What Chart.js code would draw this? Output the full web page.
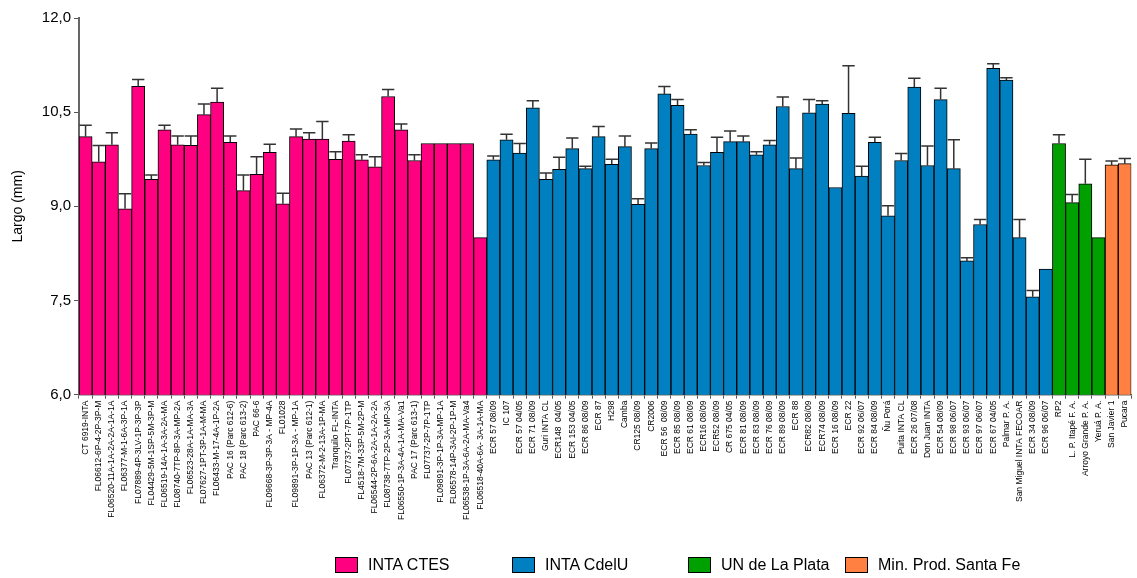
<!DOCTYPE html>
<html>
<head>
<meta charset="utf-8">
<script src="https://cdn.jsdelivr.net/npm/chart.js@4.4.1/dist/chart.umd.min.js"></script>
<style>
  html, body { margin: 0; padding: 0; background: #fff; }
  #wrap { position: relative; width: 1137px; height: 578px; }
  #legend { position: absolute; left: 0; top: 556px; width: 1137px; height: 20px;
            font: 16px "Liberation Sans", Arial, sans-serif; color: #000; }
  .item { position: absolute; top: 0; display: flex; align-items: center; height: 18px; white-space: nowrap; }
  .box { width: 23px; height: 16px; border: 1px solid #000; box-sizing: border-box; margin-right: 10px; }
</style>
</head>
<body>
<div id="wrap">
  <canvas id="c" width="1137" height="578"></canvas>
  <div id="legend"></div>
</div>
<script>
// Origin groups and their colours
const groups = ['INTA CTES', 'INTA CdelU', 'UN de La Plata', 'Min. Prod. Santa Fe'];
const groupColors = ['#FF0080', '#0080C0', '#00A000', '#FF8040'];

// INTA CTES lines
const ctesLabels = [
  'CT 6919-INTA', 'FL06612-6P-4-2P-3P-M', 'FL06520-11A-1A-2A-2A-1A-1A', 'FL06377-M-1-6A-3P-1A',
  'FL07889-4P-3LV-1P-3P-3P', 'FL04429-5M-1SP-5M-3P-M', 'FL06519-14A-1A-3A-2A-MA', 'FL08740-7TP-8P-3A-MP-2A',
  'FL06523-28A-1A-MA-3A', 'FL07627-1PT-3P-1A-M-MA', 'FL06433-M-17-4A-1P-2A', 'PAC 16 (Parc 612-6)',
  'PAC 18 (Parc 613-2)', 'PAC 66-6', 'FL09668-3P-3P-3A - MP-4A', 'FL01028',
  'FL09891-3P-1P-3A - MP-1A', 'PAC 13 (Parc 612-1)', 'FL06372-M-2-13A-1P-MA', 'Tranquilo FL-INTA',
  'FL07737-2PT-7P-1TP', 'FL4518-7M-33P-5M-2P-M', 'FL06544-2P-6A-2A-1A-2A-2A', 'FL08738-7TP-2P-3A-MP-3A',
  'FL06550-1P-3A-4A-1A-MA-Va1', 'PAC 17 (Parc 613-1)', 'FL07737-2P-7P-1TP', 'FL09891-3P-1P-3A-MP-1A',
  'FL06578-14P-3AI-2P-1P-M', 'FL06538-1P-3A-6A-2A-MA-Va4', 'FL06518-40A-6A- 3A-1A-MA'
];
const ctesMeans = [
  10.11, 9.71, 9.98, 8.96, 10.91, 9.43, 10.22, 9.98, 9.97, 10.46, 10.66, 10.02, 9.25, 9.51, 9.86, 9.04,
  10.11, 10.07, 10.07, 9.75, 10.04, 9.74, 9.63, 10.75, 10.22, 9.73, 10.0, 10.0, 10.0, 10.0, 8.5
];
const ctesErr = [
  0.18, 0.26, 0.19, 0.24, 0.11, 0.07, 0.07, 0.14, 0.15, 0.17, 0.22, 0.10, 0.25, 0.28, 0.13, 0.17,
  0.12, 0.10, 0.28, 0.12, 0.10, 0.08, 0.16, 0.11, 0.09, 0.09, 0, 0, 0, 0, 0
];

// INTA CdelU lines
const cdeluLabels = [
  'ECR 57 08/09', 'IC 107', 'ECR 57 04/05', 'ECR 71 08/09', 'Guri INTA CL', 'ECR148  04/05',
  'ECR 153 04/05', 'ECR 86 08/09', 'ECR 87', 'H298', 'Camba', 'CR125 08/09', 'CR2006',
  'ECR 56  08/09', 'ECR 85 08/09', 'ECR 61 08/09', 'ECR16 08/09', 'ECR52 08/09', 'CR 675 04/05',
  'ECR 81 08/09', 'ECR 83 08/09', 'ECR 76 08/09', 'ECR 89 08/09', 'ECR 88', 'ECR82 08/09',
  'ECR74 08/09', 'ECR 16 08/09', 'ECR 22', 'ECR 92 06/07', 'ECR 84 08/09', 'Ñu Porá',
  'Puita INTA CL', 'ECR 26 07/08', 'Don Juan INTA', 'ECR 54 08/09', 'ECR 98 06/07', 'ECR 93 06/07',
  'ECR 97 06/07', 'ECR 67 04/05', 'Palmar P. A.', 'San Miguel INTA FECOAR', 'ECR 34 08/09', 'ECR 96 06/07'
];
const cdeluMeans = [
  9.74, 10.06, 9.85, 10.57, 9.43, 9.59, 9.92, 9.60, 10.11, 9.67, 9.95, 9.03, 9.92, 10.79, 10.61,
  10.15, 9.65, 9.86, 10.03, 10.03, 9.82, 9.98, 10.59, 9.60, 10.49, 10.63, 9.30, 10.48, 9.48, 10.02,
  8.85, 9.73, 10.90, 9.65, 10.70, 9.60, 8.13, 8.71, 11.20, 11.01, 8.50, 7.56, 8.00
];
const cdeluErr = [
  0.06, 0.09, 0.15, 0.11, 0.10, 0.19, 0.17, 0.04, 0.16, 0.08, 0.17, 0.09, 0.09, 0.12, 0.09,
  0.07, 0.05, 0.24, 0.17, 0.09, 0.05, 0.07, 0.15, 0.17, 0.21, 0.05, 0, 0.76, 0.16, 0.08,
  0.16, 0.11, 0.14, 0.31, 0.18, 0.46, 0.05, 0.08, 0.07, 0.04, 0.29, 0.10, 0
];

// UN de La Plata lines
const unlpLabels = ['RP2', 'L. P. Itapé F. A.', 'Arroyo Grande P. A.', 'Yeruá P. A.'];
const unlpMeans = [10.00, 9.06, 9.36, 8.50];
const unlpErr = [0.14, 0.13, 0.39, 0];

// Min. Prod. Santa Fe lines
const santaFeLabels = ['San Javier 1', 'Pucara'];
const santaFeMeans = [9.66, 9.68];
const santaFeErr = [0.06, 0.08];

// Y axis ticks
const yTicks = [6.0, 7.5, 9.0, 10.5, 12.0];

const groupLabels = [ctesLabels, cdeluLabels, unlpLabels, santaFeLabels];
const groupMeans = [ctesMeans, cdeluMeans, unlpMeans, santaFeMeans];
const groupErrs = [ctesErr, cdeluErr, unlpErr, santaFeErr];

const allLabels = [].concat(...groupLabels);

// One dataset per group, padded with nulls so every bar keeps its own category slot
let offset = 0;
const datasets = groups.map((name, g) => {
  const data = new Array(allLabels.length).fill(null);
  const errs = new Array(allLabels.length).fill(0);
  groupMeans[g].forEach((v, i) => { data[offset + i] = v; errs[offset + i] = groupErrs[g][i]; });
  offset += groupMeans[g].length;
  return {
    label: name,
    data: data,
    errors: errs,
    backgroundColor: groupColors[g],
    borderColor: '#000',
    borderWidth: 1,
    grouped: false,
    barPercentage: 1,
    categoryPercentage: 1
  };
});

// Upper error whiskers with caps
const errorBars = {
  id: 'errorBars',
  afterDatasetsDraw(chart) {
    const ctx = chart.ctx;
    const y = chart.scales.y;
    ctx.save();
    ctx.strokeStyle = '#333';
    ctx.lineWidth = 1.5;
    chart.data.datasets.forEach((ds, di) => {
      const meta = chart.getDatasetMeta(di);
      meta.data.forEach((bar, i) => {
        const v = ds.data[i];
        const e = ds.errors[i];
        if (v == null || !e) return;
        const top = y.getPixelForValue(v + e);
        const half = bar.width * 0.47;
        ctx.beginPath();
        ctx.moveTo(bar.x, bar.y);
        ctx.lineTo(bar.x, top);
        ctx.moveTo(bar.x - half, top);
        ctx.lineTo(bar.x + half, top);
        ctx.stroke();
      });
    });
    ctx.restore();
  }
};

const font = '"Liberation Sans", Arial, sans-serif';

new Chart(document.getElementById('c'), {
  type: 'bar',
  data: { labels: allLabels, datasets: datasets },
  options: {
    responsive: false,
    animation: false,
    layout: { padding: { left: 10, right: 2, top: 18, bottom: 56 } },
    plugins: {
      legend: { display: false },
      tooltip: { enabled: false }
    },
    scales: {
      x: {
        offset: true,
        grid: { display: true, drawOnChartArea: false, offset: true, tickLength: 4, color: '#555' },
        border: { display: true, color: '#666', width: 1.5 },
        ticks: {
          autoSkip: false, maxRotation: 90, minRotation: 90, padding: 2,
          color: '#000', font: { family: font, size: 8.5 }
        }
      },
      y: {
        min: 6, max: 12,
        afterBuildTicks(scale) { scale.ticks = yTicks.map(v => ({ value: v })); },
        grid: { display: true, drawOnChartArea: false, tickLength: 5, color: '#555' },
        border: { display: true, color: '#666', width: 2 },
        ticks: {
          color: '#000', padding: 3, font: { family: font, size: 15 },
          callback: v => v.toFixed(1).replace('.', ',')
        },
        title: { display: true, text: 'Largo (mm)', color: '#000', font: { family: font, size: 14 }, padding: { top: 0, bottom: 12 } }
      }
    }
  },
  plugins: [errorBars]
});

// Legend below the chart
const legendStarts = [335, 512, 688, 845];
const legendEl = document.getElementById('legend');
groups.forEach((name, g) => {
  const item = document.createElement('div');
  item.className = 'item';
  item.style.left = legendStarts[g] + 'px';
  const box = document.createElement('span');
  box.className = 'box';
  box.style.background = groupColors[g];
  const txt = document.createElement('span');
  txt.textContent = name;
  item.appendChild(box);
  item.appendChild(txt);
  legendEl.appendChild(item);
});
</script>
</body>
</html>
